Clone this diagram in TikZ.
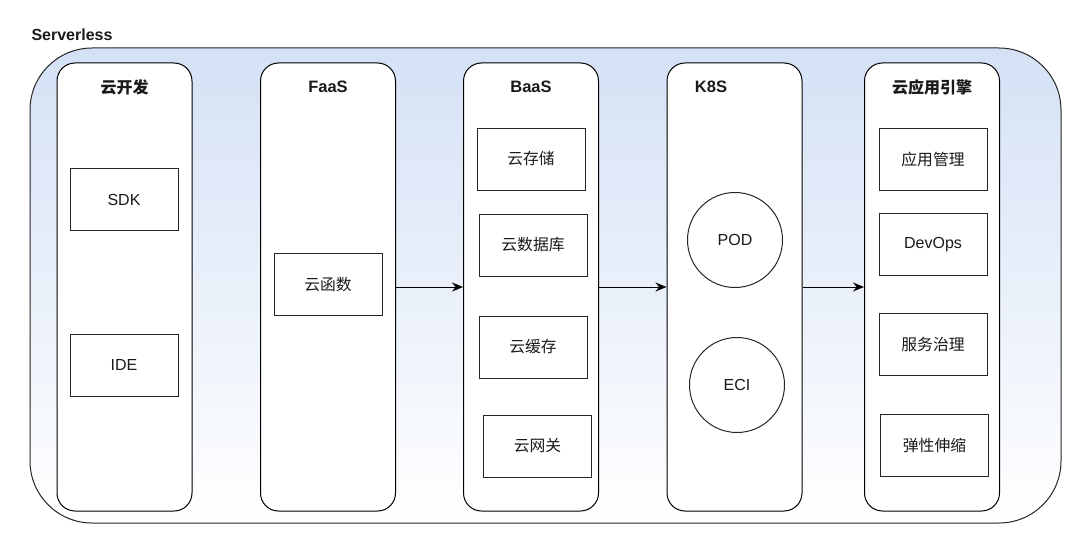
\documentclass[tikz,border=0pt]{standalone}
\usepackage{fontspec}
\setmainfont{Liberation Sans}
\newfontfamily\cjk{Noto Sans CJK SC}
\usetikzlibrary{arrows.meta}
\definecolor{topblue}{RGB}{212,225,245}
\definecolor{txt}{RGB}{26,26,26}
\begin{document}
\begin{tikzpicture}[x=1pt,y=-1pt,
  every node/.style={font=\fontsize{16}{19}\selectfont, text=txt},
  col/.style={draw=black, fill=white, line width=1pt, rounded corners=18pt, minimum width=135pt, minimum height=448pt},
  item/.style={draw=black!85, fill=white, line width=1pt, minimum width=108pt, minimum height=62pt},
  ring/.style={draw=black!85, fill=white, line width=1pt, circle, minimum size=95pt, inner sep=0pt},
  ttl/.style={font=\fontsize{16.5}{19}\selectfont\bfseries},
  cj/.style={font=\fontsize{15.8}{18}\selectfont\cjk},
  cjt/.style={font=\fontsize{16}{19}\selectfont\cjk\bfseries},
  arr/.style={-{Stealth[length=11pt,width=9pt]}, line width=1pt, draw=black}]
\useasboundingbox (0,0) rectangle (1080,551);
% outer container
\shade[top color=topblue, bottom color=white, draw=black!85, line width=1pt, rounded corners=62pt]
  (30,48) rectangle (1061,523);
\node[anchor=west, font=\fontsize{16}{19}\selectfont\bfseries] (lbl) at (28,35) {Serverless};
% columns
\node[col] (dev) at (124.5,287) {};
\node[col] (faas) at (328,287) {};
\node[col] (baas) at (531,287) {};
\node[col] (k8s) at (734.5,287) {};
\node[col] (eng) at (932,287) {};
% titles
\node[cjt] (tdev) at (124.5,87) {云开发};
\node[ttl] (tfaas) at (328,87) {FaaS};
\node[ttl] (tbaas) at (531,87) {BaaS};
\node[ttl] (tk8s) at (711,87) {K8S};
\node[cjt] (teng) at (932,87) {云应用引擎};
% items
\node[item] (sdk) at (124,199.5) {SDK};
\node[item] (ide) at (124,365) {IDE};
\node[item, cj] (fn) at (328,284.5) {云函数};
\node[item, cj] (st) at (531,159) {云存储};
\node[item, cj] (db) at (533,245) {云数据库};
\node[item, cj] (ca) at (533,347) {云缓存};
\node[item, cj] (gw) at (537.5,446) {云网关};
\node[ring] (pod) at (735,240) {POD};
\node[ring] (eci) at (737,385) {ECI};
\node[item, cj] (am) at (933,159.5) {应用管理};
\node[item] (dv) at (933,244.5) {DevOps};
\node[item, cj] (sg) at (933,344) {服务治理};
\node[item, cj] (es) at (934.5,445.5) {弹性伸缩};
% arrows
\draw[arr] (faas.east) -- (baas.west);
\draw[arr] (baas.east) -- (k8s.west);
\draw[arr] (k8s.east) -- (eng.west);
\end{tikzpicture}
\end{document}
